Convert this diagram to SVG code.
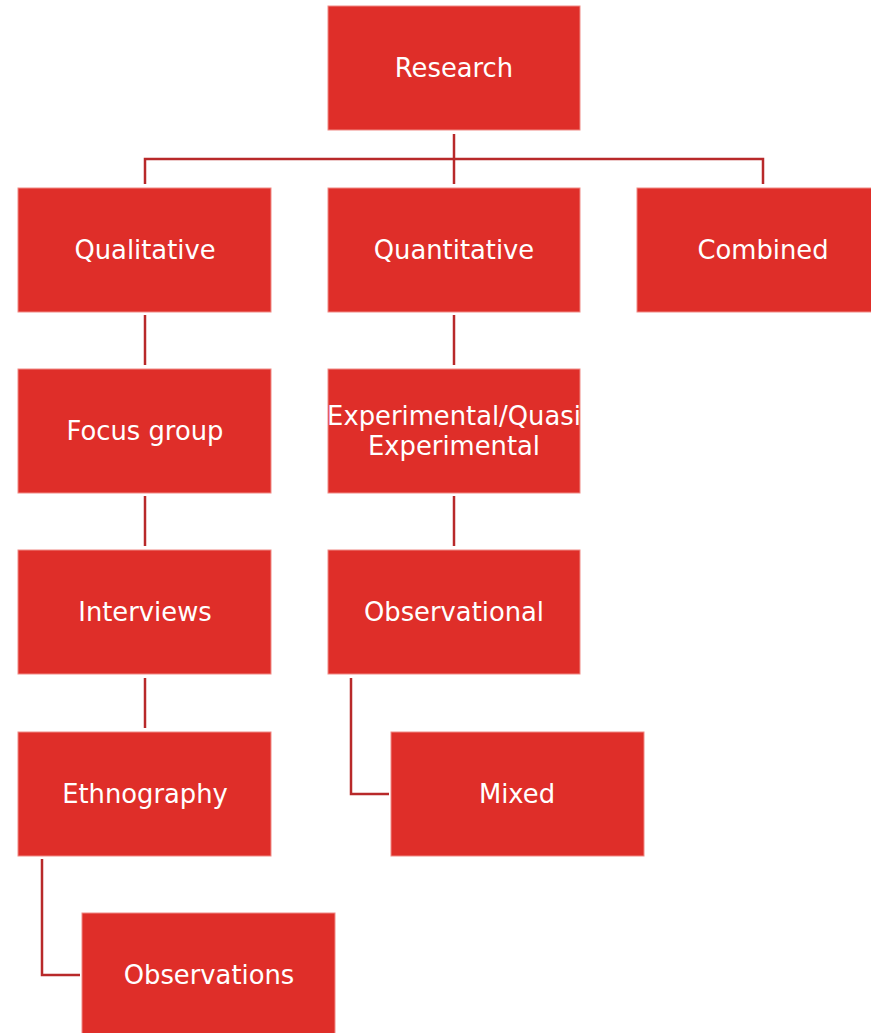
<svg xmlns="http://www.w3.org/2000/svg" width="871" height="1033" viewBox="0 0 871 1033">
<style>
.box{fill:#df2e29;stroke:#f08a85;stroke-width:1}
.lbl{fill:#ffffff;font-family:"DejaVu Sans","Liberation Sans",sans-serif;font-size:25.8px;text-anchor:middle;dominant-baseline:central}
.con{fill:none;stroke:#b8292a;stroke-width:2.5}
</style>
<rect width="871" height="1033" fill="#ffffff"/>
<g id="connectors">
<path class="con" d="M454 134V184"/>
<path class="con" d="M145 184V159H763V184"/>
<path class="con" d="M454 315V365"/>
<path class="con" d="M145 315V365"/>
<path class="con" d="M454 496V546"/>
<path class="con" d="M145 496V546"/>
<path class="con" d="M145 678V728"/>
<path class="con" d="M351 678V794H389"/>
<path class="con" d="M42 859V975H80"/>
</g>
<g id="research"><rect class="box" x="328" y="6" width="252" height="124"/><text class="lbl" x="454" y="68">Research</text></g>
<g id="qualitative"><rect class="box" x="18" y="188" width="253" height="124"/><text class="lbl" x="145" y="250">Qualitative</text></g>
<g id="quantitative"><rect class="box" x="328" y="188" width="252" height="124"/><text class="lbl" x="454" y="250">Quantitative</text></g>
<g id="combined"><rect class="box" x="637" y="188" width="252" height="124"/><text class="lbl" x="763" y="250">Combined</text></g>
<g id="focus-group"><rect class="box" x="18" y="369" width="253" height="124"/><text class="lbl" x="145" y="431">Focus group</text></g>
<g id="experimental"><rect class="box" x="328" y="369" width="252" height="124"/><text class="lbl" x="454" y="416">Experimental/Quasi</text><text class="lbl" x="454" y="446">Experimental</text></g>
<g id="interviews"><rect class="box" x="18" y="550" width="253" height="124"/><text class="lbl" x="145" y="612">Interviews</text></g>
<g id="observational"><rect class="box" x="328" y="550" width="252" height="124"/><text class="lbl" x="454" y="612">Observational</text></g>
<g id="ethnography"><rect class="box" x="18" y="732" width="253" height="124"/><text class="lbl" x="145" y="794">Ethnography</text></g>
<g id="mixed"><rect class="box" x="391" y="732" width="253" height="124"/><text class="lbl" x="517" y="794">Mixed</text></g>
<g id="observations"><rect class="box" x="82" y="913" width="253" height="124"/><text class="lbl" x="209" y="975">Observations</text></g>
</svg>
